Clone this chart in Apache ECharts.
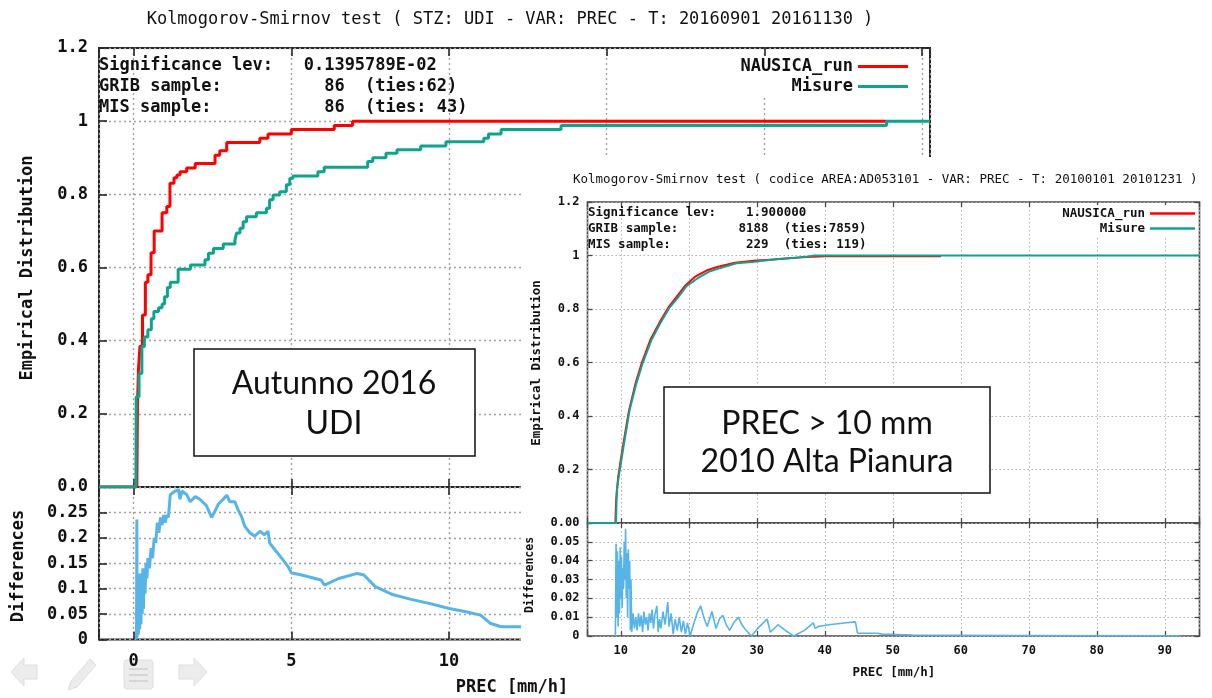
<!DOCTYPE html>
<html>
<head>
<meta charset="utf-8">
<script src="https://cdn.jsdelivr.net/npm/echarts@6/dist/echarts.min.js"></script>
<style>
  html, body { margin: 0; padding: 0; background: #fff; }
  #udi { position: absolute; left: 0; top: 0; width: 1212px; height: 698px; }
  #area { position: absolute; left: 521px; top: 157px; width: 691px; height: 541px; background: #fff; }
</style>
</head>
<body>
<div id="udi"></div>
<div id="area"></div>
<script>
// --- UDI, autunno 2016: CDF [PREC, F] ---
const udiRun = [
  [-1.1, 0], [0.10, 0], [0.12, 0.22], [0.15, 0.32], [0.2, 0.385], [0.28, 0.47], [0.37, 0.56],
  [0.45, 0.58], [0.55, 0.64], [0.65, 0.70], [0.9, 0.75], [1.05, 0.767], [1.15, 0.83],
  [1.28, 0.845], [1.37, 0.853], [1.47, 0.862], [1.68, 0.872], [1.95, 0.884], [2.58, 0.907],
  [2.73, 0.919], [2.95, 0.942], [4.0, 0.953], [4.26, 0.965], [5.0, 0.977], [6.36, 0.988],
  [6.94, 1.0], [23.87, 1.0]
];
const udiMisure = [
  [-1.1, 0], [0.07, 0], [0.08, 0.247], [0.17, 0.31], [0.26, 0.384], [0.34, 0.41], [0.45, 0.43],
  [0.56, 0.46], [0.64, 0.48], [0.79, 0.49], [0.9, 0.50], [0.98, 0.52], [1.07, 0.545], [1.16, 0.56],
  [1.41, 0.595], [1.8, 0.607], [2.26, 0.621], [2.37, 0.639], [2.53, 0.652], [2.84, 0.664],
  [3.21, 0.675], [3.26, 0.694], [3.37, 0.707], [3.47, 0.725], [3.58, 0.739], [3.89, 0.75],
  [4.21, 0.762], [4.31, 0.785], [4.42, 0.798], [4.63, 0.807], [4.84, 0.826], [4.95, 0.844],
  [5.05, 0.85], [5.84, 0.862], [6.04, 0.874], [7.42, 0.89], [7.58, 0.9], [8.0, 0.912],
  [8.35, 0.922], [9.1, 0.932], [9.9, 0.944], [11.1, 0.953], [11.25, 0.965], [11.65, 0.977],
  [13.55, 0.988], [23.87, 1.0], [25.25, 1.0]
];
const udiDiff = [
  [0.09, 0], [0.1, 0.236], [0.11, 0.005], [0.13, 0.12], [0.15, 0.01], [0.17, 0.13], [0.19, 0.02],
  [0.21, 0.11], [0.23, 0.03], [0.25, 0.13], [0.27, 0.05], [0.29, 0.14], [0.31, 0.06], [0.33, 0.13],
  [0.36, 0.09], [0.39, 0.15], [0.42, 0.12], [0.45, 0.16], [0.5, 0.14], [0.55, 0.18], [0.6, 0.16],
  [0.65, 0.2], [0.7, 0.19], [0.75, 0.23], [0.8, 0.21], [0.85, 0.24], [0.9, 0.225], [0.95, 0.245],
  [1.0, 0.23], [1.05, 0.245], [1.1, 0.24], [1.16, 0.285], [1.32, 0.292], [1.42, 0.295],
  [1.47, 0.276], [1.53, 0.292], [1.68, 0.285], [1.79, 0.271], [1.95, 0.281], [2.1, 0.276],
  [2.31, 0.263], [2.47, 0.24], [2.58, 0.253], [2.68, 0.266], [2.84, 0.276], [2.95, 0.284],
  [3.05, 0.271], [3.21, 0.271], [3.31, 0.255], [3.42, 0.242], [3.52, 0.223], [3.68, 0.21],
  [3.84, 0.203], [4.0, 0.213], [4.15, 0.206], [4.26, 0.213], [4.31, 0.19], [4.47, 0.177],
  [4.68, 0.161], [4.89, 0.144], [5.0, 0.131], [5.26, 0.128], [5.94, 0.117], [6.05, 0.107],
  [6.5, 0.12], [7.09, 0.13], [7.3, 0.127], [7.66, 0.104], [8.23, 0.088], [8.8, 0.079],
  [9.37, 0.071], [10.0, 0.061], [10.5, 0.055], [11.0, 0.048], [11.3, 0.032], [11.65, 0.025],
  [12.3, 0.025], [13.5, 0.023]
];

// --- Alta Pianura 2010, PREC > 10 mm ---
const areaRun = [
  [5.1, 0], [9.2, 0], [9.3, 0.08], [9.6, 0.17], [10.2, 0.27], [11.2, 0.42], [12.2, 0.525],
  [13.1, 0.60], [14.4, 0.688], [15.7, 0.75], [17.0, 0.806], [18.2, 0.845], [19.5, 0.888],
  [21.0, 0.922], [22.8, 0.946], [24.3, 0.958], [26.8, 0.973], [29.5, 0.98], [32.5, 0.985],
  [36.5, 0.993], [40, 0.997], [57.1, 0.997]
];
const areaMisure = [
  [5.1, 0], [9.3, 0], [9.4, 0.12], [9.7, 0.174], [10.4, 0.286], [11.3, 0.423], [12.3, 0.523],
  [13.2, 0.597], [14.5, 0.684], [15.8, 0.747], [17.1, 0.803], [18.3, 0.84], [19.6, 0.884],
  [21.3, 0.915], [23, 0.94], [24.5, 0.952], [27, 0.971], [29.7, 0.977], [32.7, 0.986],
  [36.6, 0.993], [38.5, 1.0], [95.1, 1.0]
];
const areaDiff = [
  [9.2, 0], [9.3, 0.049], [9.4, 0.01], [9.5, 0.045], [9.6, 0.005], [9.7, 0.04], [9.8, 0.012],
  [9.9, 0.047], [10.0, 0.02], [10.1, 0.042], [10.2, 0.015], [10.3, 0.036], [10.4, 0.025],
  [10.5, 0.05], [10.6, 0.03], [10.7, 0.057], [10.8, 0.02], [10.9, 0.044], [11.0, 0.01],
  [11.1, 0.046], [11.2, 0.025], [11.3, 0.04], [11.4, 0.003], [11.5, 0.03], [11.6, 0.002],
  [11.8, 0.012], [12.0, 0.004], [12.2, 0.01], [12.4, 0.003], [12.6, 0.012], [12.8, 0.005],
  [13.0, 0.011], [13.2, 0.002], [13.4, 0.013], [13.6, 0.006], [13.8, 0.01], [14.0, 0.003],
  [14.2, 0.012], [14.4, 0.007], [14.6, 0.014], [14.8, 0.004], [15.0, 0.011], [15.3, 0.016],
  [15.5, 0.002], [15.7, 0.009], [15.9, 0.004], [16.2, 0.013], [16.5, 0.006], [16.9, 0.018],
  [17.1, 0.005], [17.4, 0.012], [17.7, 0.001], [18.0, 0.009], [18.3, 0.003], [18.6, 0.01],
  [18.9, 0.002], [19.2, 0.008], [19.5, 0.001], [19.8, 0.007], [20.2, 0.0], [20.6, 0.005],
  [21.2, 0.012], [21.75, 0.016], [22.2, 0.01], [22.7, 0.005], [23.4, 0.013], [24.0, 0.004],
  [24.5, 0.009], [25.0, 0.011], [25.5, 0.006], [26.0, 0.003], [26.6, 0.007], [27.3, 0.01],
  [27.8, 0.006], [28.2, 0.004], [29.2, 0.0], [30.4, 0.005], [31.5, 0.009], [32.0, 0.002],
  [33.1, 0.006], [34.2, 0.003], [35.4, 0.0], [37.0, 0.003], [38.3, 0.007], [38.6, 0.004],
  [39.0, 0.005], [40.6, 0.006], [43.2, 0.007], [44.5, 0.0075], [44.8, 0.0015], [47.7, 0.0015],
  [48.4, 0.001], [52.9, 0.0005], [67.2, 0.0003], [92.2, 0.0001]
];

const MONO = '"DejaVu Sans Mono", "Liberation Mono", monospace';
const RED = '#ff0000';
const TEAL = '#0fa38d';
const SKY = '#56b4e9';

function trim(v, d) { return String(parseFloat(v.toFixed(d))); }

// testo semplice per graphic
function txt(x, y, text, font, align, rot) {
  return {
    type: 'text', x: x, y: y, rotation: rot || 0, z: 20,
    style: {
      text: text, font: font, fill: '#111',
      align: align || 'left', verticalAlign: 'middle',
      textAlign: align || 'left', textVerticalAlign: 'middle'
    }
  };
}

// due pannelli stile gnuplot: CDF sopra, differenze sotto
function ksOption(c) {
  const frame = { show: true, borderColor: c.frame, borderWidth: c.frameW, backgroundColor: 'transparent' };
  const tick = { show: true, inside: true, length: c.tickLen, lineStyle: { color: c.frame, width: c.frameW * 0.8 } };
  const lab = { color: '#111', fontFamily: MONO, fontSize: c.font, fontWeight: 'bold' };
  const noLine = { show: false, onZero: false };
  const xBase = { type: 'value', min: c.xMin, max: c.xMax, splitNumber: c.xSplit, axisLine: noLine, axisTick: tick };
  const xFmt = v => (Math.abs(v / c.xStep - Math.round(v / c.xStep)) < 1e-6 ? String(Math.round(v)) : '');
  const split = { show: true, lineStyle: c.gridLine };
  const noLab = { show: false };
  return {
    animation: false,
    grid: [
      Object.assign({ left: c.left, top: c.top, width: c.width, height: c.hCdf }, frame),
      Object.assign({ left: c.left, top: c.top + c.hCdf, width: c.width, height: c.hDiff }, frame)
    ],
    xAxis: [
      Object.assign({}, xBase, { gridIndex: 0, position: 'bottom', axisLabel: noLab, splitLine: split }),
      Object.assign({}, xBase, { gridIndex: 0, position: 'top', axisLabel: noLab, splitLine: { show: false } }),
      Object.assign({}, xBase, { gridIndex: 1, position: 'bottom',
        axisLabel: Object.assign({ formatter: xFmt, margin: c.xLabelMargin }, lab), splitLine: split }),
      Object.assign({}, xBase, { gridIndex: 1, position: 'top', axisLabel: noLab, splitLine: { show: false } })
    ],
    yAxis: [
      { type: 'value', gridIndex: 0, position: 'left', min: 0, max: 1.2, interval: 0.2, axisLine: noLine, axisTick: tick,
        axisLabel: Object.assign({ margin: c.yLabelMargin, formatter: v => (Math.abs(v) < 1e-9 ? c.cdfZero : trim(v, 1)) }, lab),
        splitLine: split },
      { type: 'value', gridIndex: 0, position: 'right', min: 0, max: 1.2, interval: 0.2, axisLine: noLine,
        axisTick: tick, axisLabel: noLab, splitLine: { show: false } },
      { type: 'value', gridIndex: 1, position: 'left', min: 0, max: c.yDiffMax, interval: c.yDiffStep, axisLine: noLine, axisTick: tick,
        axisLabel: Object.assign({ margin: c.yLabelMargin, formatter: v => (v > c.yDiffMax - 1e-9 ? '' : trim(v, 3)) }, lab),
        splitLine: split },
      { type: 'value', gridIndex: 1, position: 'right', min: 0, max: c.yDiffMax, interval: c.yDiffStep,
        axisLine: noLine, axisTick: tick, axisLabel: noLab, splitLine: { show: false } }
    ],
    legend: Object.assign({
      data: ['NAUSICA_run', 'Misure'], orient: 'vertical', align: 'right', icon: 'rect',
      selectedMode: false, backgroundColor: '#fff'
    }, c.legend),
    series: [
      { name: 'NAUSICA_run', type: 'line', xAxisIndex: 0, yAxisIndex: 0, data: c.run, step: c.step,
        symbol: 'none', silent: true, itemStyle: { color: RED }, lineStyle: { color: RED, width: c.lw } },
      { name: 'Misure', type: 'line', xAxisIndex: 0, yAxisIndex: 0, data: c.mis, step: c.step,
        symbol: 'none', silent: true, itemStyle: { color: TEAL }, lineStyle: { color: TEAL, width: c.lw } },
      { name: 'Differences', type: 'line', xAxisIndex: 2, yAxisIndex: 2, data: c.diff,
        symbol: 'none', silent: true, itemStyle: { color: SKY }, lineStyle: { color: SKY, width: c.diffW } }
    ],
    graphic: c.graphic
  };
}

const navFill = { fill: '#ececec', stroke: '#dedede', lineWidth: 1 };
const BIG = 'bold 17px ' + MONO;
const SMALL = 'bold 12.5px ' + MONO;
const BOXFONT = '32px Lato, "Open Sans", sans-serif';

const udiChart = echarts.init(document.getElementById('udi'));
udiChart.setOption(ksOption({
  left: 99, top: 48, width: 831, hCdf: 439, hDiff: 152.5,
  xMin: -1.1, xMax: 25.25, xSplit: 5, xStep: 5,
  yDiffMax: 0.3, yDiffStep: 0.05, cdfZero: '0.0',
  font: 17, frame: '#262626', frameW: 2, tickLen: 8,
  gridLine: { color: '#a0a0a0', width: 1.4, type: [2, 3] },
  xLabelMargin: 14, yLabelMargin: 11, lw: 3, diffW: 3, step: 'end',
  run: udiRun, mis: udiMisure, diff: udiDiff,
  legend: {
    right: 300, top: 56, itemWidth: 50, itemHeight: 3, itemGap: 3, padding: [2, 4, 2, 40],
    textStyle: { fontFamily: MONO, fontSize: 17, fontWeight: 'bold', color: '#111' }
  },
  graphic: [
    txt(510, 20, 'Kolmogorov-Smirnov test ( STZ: UDI - VAR: PREC - T: 20160901 20161130 )', '17px ' + MONO, 'center'),
    txt(99, 66, 'Significance lev:   0.1395789E-02', BIG),
    txt(99, 87, 'GRIB sample:          86  (ties:62)', BIG),
    txt(99, 108, 'MIS sample:           86  (ties: 43)', BIG),
    txt(28, 268, 'Empirical Distribution', BIG, 'center', Math.PI / 2),
    txt(19, 566, 'Differences', BIG, 'center', Math.PI / 2),
    txt(512, 688, 'PREC [mm/h]', BIG, 'center'),
    { type: 'rect', z: 15, shape: { x: 194, y: 349, width: 281, height: 107 },
      style: { fill: '#fff', stroke: '#111', lineWidth: 1.5 } },
    txt(334, 384, 'Autunno 2016', BOXFONT, 'center'),
    txt(334, 424, 'UDI', BOXFONT, 'center'),
    { type: 'polygon', shape: { points: [[11, 672], [24, 658], [24, 665], [37, 665], [37, 679], [24, 679], [24, 686]] }, style: navFill },
    { type: 'polygon', shape: { points: [[68, 690], [71, 681], [90, 659], [96, 665], [77, 687]] }, style: navFill },
    { type: 'rect', shape: { x: 124, y: 660, width: 29, height: 29, r: 3 }, style: navFill },
    { type: 'rect', shape: { x: 129, y: 668, width: 19, height: 2 }, style: { fill: '#d6d6d6' } },
    { type: 'rect', shape: { x: 129, y: 674, width: 19, height: 2 }, style: { fill: '#d6d6d6' } },
    { type: 'rect', shape: { x: 129, y: 680, width: 19, height: 2 }, style: { fill: '#d6d6d6' } },
    { type: 'polygon', shape: { points: [[207, 672], [194, 658], [194, 665], [179, 665], [179, 679], [194, 679], [194, 686]] }, style: navFill }
  ]
}));

const areaChart = echarts.init(document.getElementById('area'));
areaChart.setOption(ksOption({
  left: 66.5, top: 45, width: 612, hCdf: 321, hDiff: 113,
  xMin: 5.1, xMax: 95.1, xSplit: 9, xStep: 10,
  yDiffMax: 0.06, yDiffStep: 0.01, cdfZero: '0.00',
  font: 12, frame: '#4a4a4a', frameW: 1.6, tickLen: 5,
  gridLine: { color: '#b0b0b0', width: 1, type: [1.5, 2.5] },
  xLabelMargin: 9, yLabelMargin: 8, lw: 2, diffW: 1.6, step: false,
  run: areaRun, mis: areaMisure, diff: areaDiff,
  legend: {
    right: 15, top: 48, itemWidth: 45, itemHeight: 2.5, itemGap: 2, padding: [2, 2, 2, 30],
    textStyle: { fontFamily: MONO, fontSize: 12.5, fontWeight: 'bold', color: '#111' }
  },
  graphic: [
    txt(52, 23, 'Kolmogorov-Smirnov test ( codice AREA:AD053101 - VAR: PREC - T: 20100101 20101231 )', '12.5px ' + MONO),
    txt(67, 56, 'Significance lev:    1.900000', SMALL),
    txt(67, 72, 'GRIB sample:        8188  (ties:7859)', SMALL),
    txt(67, 88, 'MIS sample:          229  (ties: 119)', SMALL),
    txt(16, 206, 'Empirical Distribution', SMALL, 'center', Math.PI / 2),
    txt(9, 418, 'Differences', 'bold 11.5px ' + MONO, 'center', Math.PI / 2),
    txt(373, 516, 'PREC [mm/h]', SMALL, 'center'),
    // asse del grafico di sinistra che resta sopra al riquadro
    txt(512 - 521, 688 - 157, 'PREC [mm/h]', BIG, 'center'),
    { type: 'rect', z: 15, shape: { x: 143, y: 230, width: 326, height: 106 },
      style: { fill: '#fff', stroke: '#111', lineWidth: 1.5 } },
    txt(306, 267, 'PREC > 10 mm', BOXFONT, 'center'),
    txt(306, 305, '2010 Alta Pianura', BOXFONT, 'center')
  ]
}));
</script>
</body>
</html>
